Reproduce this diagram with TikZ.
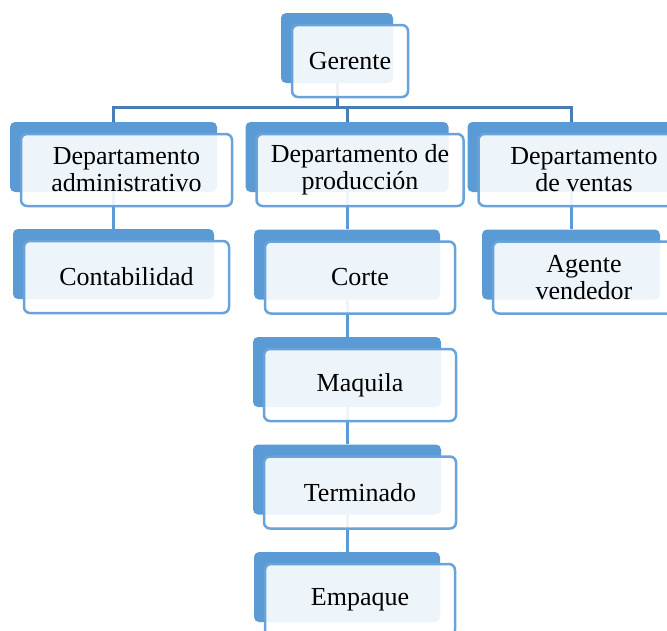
\documentclass[tikz,border=0pt]{standalone}
\usepackage{fontspec}
\setmainfont{Liberation Serif}
\usepackage{tikz}
\usetikzlibrary{positioning}
\usetikzlibrary{calc}
\definecolor{backblue}{HTML}{5B9BD5}
\definecolor{frontblue}{HTML}{69A3DA}
\definecolor{busblue}{HTML}{4A7DB6}
\tikzset{backbox/.style={fill=backblue,rounded corners=5pt,minimum height=70pt,inner sep=0pt},
frontbox/.style={draw=frontblue,line width=2.5pt,fill=white,fill opacity=0.9,text opacity=1,rounded corners=6pt,minimum height=72pt,inner sep=0pt,align=center,font=\fontsize{26}{27}\selectfont},
bus/.style={draw=busblue,line width=3pt},
link/.style={draw=backblue,line width=3pt}}

\begin{document}
\begin{tikzpicture}[x=1pt,y=-1pt]
\useasboundingbox (0,0) rectangle (667,630);
\clip (0,0) rectangle (667,630);

% back boxes
\node (gerenteb) at (337,48) [backbox,minimum width=112pt] {};
\node (admb) at (113.5,157) [backbox,minimum width=207pt] {};
\node (prodb) at (347,157) [backbox,minimum width=203pt] {};
\node (ventasb) at (571,157) [backbox,minimum width=207pt] {};
\node (contb) at (113.5,264) [backbox,minimum width=201pt] {};
\node (corteb) at (347,264.5) [backbox,minimum width=186pt] {};
\node (maquilab) at (347,372) [backbox,minimum width=188pt] {};
\node (terminadob) at (347,479.5) [backbox,minimum width=188pt] {};
\node (empaqueb) at (347,587) [backbox,minimum width=186pt] {};
\node (agenteb) at (571,264.5) [backbox,minimum width=178pt] {};

% connectors
\coordinate (bus) at (337,107);
\draw [bus] (gerenteb.south) -- (bus);
\draw [bus] (admb.north) |- (bus) -| (ventasb.north);
\draw [bus] (prodb.north) -- (prodb.north |- bus);
\draw [link] (admb.south) -- (contb.north);
\draw [link] (prodb.south) -- (corteb.north);
\draw [link] (corteb.south) -- (maquilab.north);
\draw [link] (maquilab.south) -- (terminadob.north);
\draw [link] (terminadob.south) -- (empaqueb.north);
\draw [link] (ventasb.south) -- (agenteb.north);

% front boxes
\node (gerente) at (350,61) [frontbox,minimum width=116pt] {Gerente};
\node (adm) at (126.5,170) [frontbox,minimum width=211pt] {Departamento\\administrativo};
\node (prod) at (360,170) [frontbox,minimum width=207pt] {Departamento de\\producción};
\node (ventas) at (584,170) [frontbox,minimum width=211pt] {Departamento\\de ventas};
\node (cont) at (126.5,277) [frontbox,minimum width=205pt] {Contabilidad};
\node (corte) at (360,277.5) [frontbox,minimum width=190pt] {Corte};
\node (maquila) at (360,385) [frontbox,minimum width=192pt] {Maquila};
\node (terminado) at (360,492.5) [frontbox,minimum width=192pt] {Terminado};
\node (empaque) at (360,600) [frontbox,minimum width=190pt] {Empaque};
\node (agente) at (584,277.5) [frontbox,minimum width=182pt] {Agente\\vendedor};
\end{tikzpicture}
\end{document}
